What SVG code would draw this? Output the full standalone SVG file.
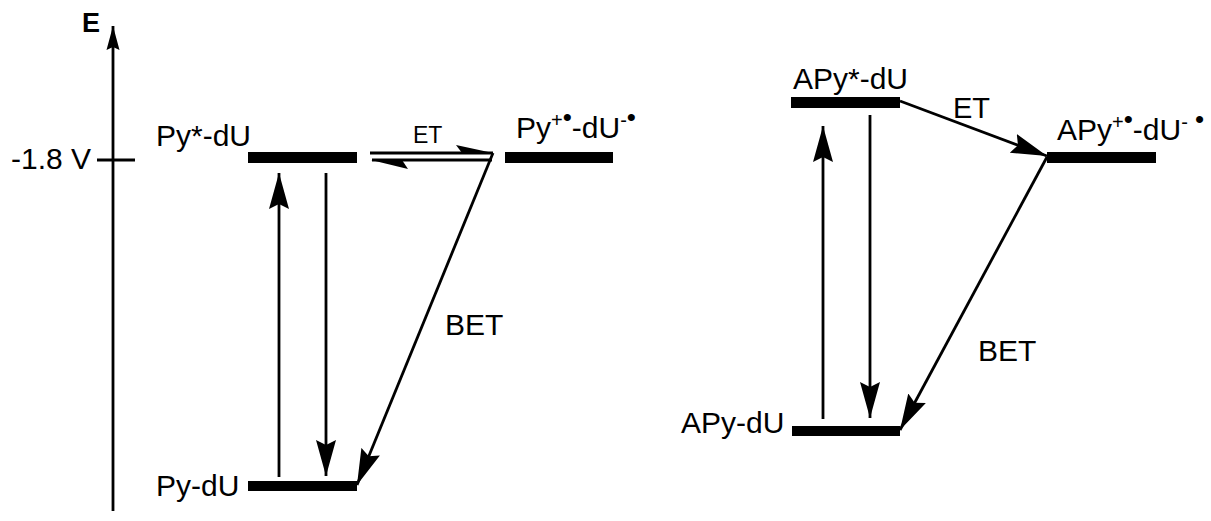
<svg xmlns="http://www.w3.org/2000/svg" width="1211" height="521" viewBox="0 0 1211 521">
<style>
text{font-family:"Liberation Sans",Arial,sans-serif;font-size:30px;fill:#000}
.lvl{fill:#000}
.ln{stroke:#000;stroke-width:2.8;fill:none}
.et{font-size:23px}
.big{font-size:29px}
.sup{font-size:20px}
.dot{font-size:26px}
</style>
<defs>
<marker id="ah" markerUnits="userSpaceOnUse" markerWidth="40" markerHeight="22" viewBox="0 0 40 22" refX="36" refY="11" orient="auto">
<path d="M0,1 L36,11 L0,21 L5,11 z" fill="#000"/>
</marker>
<marker id="ax" markerUnits="userSpaceOnUse" markerWidth="26" markerHeight="14" viewBox="0 0 26 14" refX="24" refY="7" orient="auto">
<path d="M0,0.5 L24,7 L0,13.5 L3,7 z" fill="#000"/>
</marker>
</defs>
<g id="axis">
<line class="ln" x1="113" y1="511" x2="113" y2="26" marker-end="url(#ax)"/>
<line class="ln" x1="97" y1="160" x2="135" y2="160"/>
<text x="82" y="32" style="font-weight:bold;font-size:27px">E</text>
<text x="11" y="169">-1.8 V</text>
</g>
<g id="py-star">
<rect class="lvl" x="248" y="152" width="109" height="11"/>
<text x="156" y="146">Py*-dU</text>
</g>
<g id="py-radical">
<rect class="lvl" x="505" y="152" width="108" height="11"/>
<text x="516" y="138">Py<tspan class="sup" dy="-11">+</tspan><tspan class="dot" dy="-1">•</tspan><tspan dy="12">-dU</tspan><tspan class="sup" dy="-11">-</tspan><tspan class="dot" dy="-1">•</tspan></text>
</g>
<g id="py-ground">
<rect class="lvl" x="248" y="481" width="109" height="10"/>
<text x="156" y="496">Py-dU</text>
</g>
<g id="apy-star">
<rect class="lvl" x="791" y="97" width="109" height="11"/>
<text x="793" y="89">APy*-dU</text>
</g>
<g id="apy-radical">
<rect class="lvl" x="1047" y="152" width="109" height="11"/>
<text x="1057" y="140">APy<tspan class="sup" dy="-11">+</tspan><tspan class="dot" dy="-1">•</tspan><tspan dy="12">-dU</tspan><tspan class="sup" dy="-11">-</tspan><tspan class="dot" dy="-1"> •</tspan></text>
</g>
<g id="apy-ground">
<rect class="lvl" x="792" y="426" width="108" height="10"/>
<text x="681" y="433">APy-dU</text>
</g>
<g id="connectors">
<line class="ln" x1="279" y1="477" x2="279" y2="173" marker-end="url(#ah)"/>
<line class="ln" x1="326" y1="173" x2="326" y2="476" marker-end="url(#ah)"/>
<line class="ln" x1="370" y1="153" x2="493" y2="153"/>
<polygon points="493,153 456,145 462,153"/>
<line class="ln" x1="372" y1="160" x2="492" y2="160"/>
<polygon points="371,160 408,169 402,160"/>
<line class="ln" x1="493" y1="153" x2="357" y2="485" marker-end="url(#ah)"/>
<line class="ln" x1="823" y1="419" x2="823" y2="126" marker-end="url(#ah)"/>
<line class="ln" x1="870" y1="115" x2="870" y2="418" marker-end="url(#ah)"/>
<line class="ln" x1="900" y1="101" x2="1047" y2="156" marker-end="url(#ah)"/>
<line class="ln" x1="1047" y1="157" x2="900" y2="430" marker-end="url(#ah)"/>
<text x="413" y="143" class="et">ET</text>
<text x="953" y="118" class="big">ET</text>
<text x="445" y="335">BET</text>
<text x="978" y="361">BET</text>
</g>
</svg>
